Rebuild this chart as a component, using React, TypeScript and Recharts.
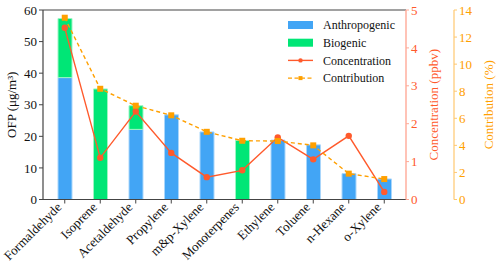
import React from 'react';
import {
  ComposedChart,
  Bar,
  Line,
  XAxis,
  YAxis,
  Legend,
  ReferenceLine,
  Label,
} from 'recharts';

// Top ten VOC species ranked by ozone formation potential
const categories = [
  'Formaldehyde',
  'Isoprene',
  'Acetaldehyde',
  'Propylene',
  'm&p-Xylene',
  'Monoterpenes',
  'Ethylene',
  'Toluene',
  'n-Hexane',
  'o-Xylene',
];
// OFP (μg/m³), split by source
const anthropogenic = [38.6, 0, 22.2, 26.8, 21.4, 0, 18.8, 17.3, 8.2, 6.5];
const biogenic = [18.7, 35.0, 7.5, 0, 0, 18.7, 0, 0, 0, 0];
// Mixing ratio (ppbv)
const concentration = [4.53, 1.1, 2.32, 1.23, 0.59, 0.77, 1.64, 1.06, 1.68, 0.2];
// Share of total OFP (%)
const contribution = [13.43, 8.18, 6.93, 6.22, 5.0, 4.34, 4.32, 4.0, 1.91, 1.51];

const ofpTicks = [0, 10, 20, 30, 40, 50, 60];
const concTicks = [0, 1, 2, 3, 4, 5];
const contribTicks = [0, 2, 4, 6, 8, 10, 12, 14];

const data = categories.map((name, i) => ({
  name,
  anthropogenic: anthropogenic[i],
  biogenic: biogenic[i],
  concentration: concentration[i],
  contribution: contribution[i],
}));

const FONT = 'Liberation Serif';
const BLUE = '#42A5F5';
const GREEN = '#00E676';
const RED = '#FF5a2c';
const RED_AXIS = '#FFAA98';
const ORANGE = '#FFA000';
const ORANGE_AXIS = '#FFC870';
const DARK = '#444';

// Category names rotated 45°, right end tucked just left of the tick
const CategoryTick = (props: any) => {
  const { x, y, payload } = props;
  return (
    <g transform={`translate(${x - 2.5},${y + 2.5})`}>
      <text
        transform="rotate(-45)"
        textAnchor="end"
        style={{ fontFamily: FONT, fontSize: 13 }}
        fill="#111"
      >
        {payload.value}
      </text>
    </g>
  );
};

const SquareDot = (props: any) => {
  const { cx, cy, index } = props;
  if (cx == null || cy == null) return null;
  return <rect key={`sq-${index}`} x={cx - 3} y={cy - 3} width={6} height={6} fill={ORANGE} />;
};

const RoundDot = (props: any) => {
  const { cx, cy, index } = props;
  if (cx == null || cy == null) return null;
  return <circle key={`rd-${index}`} cx={cx} cy={cy} r={3.2} fill={RED} />;
};

const legendItems = [
  { label: 'Anthropogenic', kind: 'box', color: BLUE },
  { label: 'Biogenic', kind: 'box', color: GREEN },
  { label: 'Concentration', kind: 'line', color: RED },
  { label: 'Contribution', kind: 'dash', color: ORANGE },
];

const LegendBox = () => (
  <svg width={130} height={75} style={{ display: 'block' }}>
    {legendItems.map((it, i) => {
      const cy = 11 + i * 17.7;
      return (
        <g key={it.label}>
          {it.kind === 'box' && (
            <rect x={0} y={cy - 4} width={25} height={8} fill={it.color} />
          )}
          {it.kind === 'line' && (
            <g>
              <line x1={0} y1={cy} x2={25} y2={cy} stroke={it.color} strokeWidth={1.4} />
              <circle cx={12.5} cy={cy} r={2.2} fill={it.color} />
            </g>
          )}
          {it.kind === 'dash' && (
            <g>
              <line
                x1={0}
                y1={cy}
                x2={25}
                y2={cy}
                stroke={it.color}
                strokeWidth={1.4}
                strokeDasharray="4 2.5"
              />
              <rect x={10.5} y={cy - 2} width={4} height={4} fill={it.color} />
            </g>
          )}
          <text x={35} y={cy + 4.2} style={{ fontFamily: FONT, fontSize: 12 }} fill="#111">
            {it.label}
          </text>
        </g>
      );
    })}
  </svg>
);

const axisTitle = (text: string, color: string, dx: number) => (props: any) => {
  const vb = props.viewBox || {};
  const x = vb.x + dx;
  const y = vb.y + vb.height / 2;
  return (
    <text
      x={x}
      y={y}
      transform={`rotate(-90, ${x}, ${y})`}
      textAnchor="middle"
      dominantBaseline="central"
      style={{ fontFamily: FONT, fontSize: 13 }}
      fill={color}
    >
      {text}
    </text>
  );
};

const tickStyle = (fill: string) => ({ fill, fontSize: 13, style: { fontFamily: FONT } });

export default function App() {
  return (
    <div
      style={{
        position: 'absolute',
        left: 0,
        top: 0,
        width: 500,
        height: 265,
        fontFamily: FONT,
      }}
    >
      <ComposedChart
        width={500}
        height={265}
        data={data}
        margin={{ top: 10, right: 0, bottom: 0, left: 0 }}
        barSize={14}
      >
        <XAxis
          dataKey="name"
          xAxisId="x"
          interval={0}
          height={65.5}
          padding={{ left: 4, right: 4 }}
          tick={<CategoryTick />}
          tickSize={4}
          axisLine={{ stroke: DARK, strokeWidth: 1.2 }}
          tickLine={{ stroke: DARK }}
        />
        <YAxis
          yAxisId="ofp"
          orientation="left"
          width={43}
          domain={[0, 60]}
          ticks={ofpTicks}
          tickSize={4}
          tickMargin={2}
          axisLine={{ stroke: DARK, strokeWidth: 1.2 }}
          tickLine={{ stroke: DARK }}
          tick={tickStyle('#111')}
        >
          <Label content={axisTitle('OFP (μg/m³)', '#111', 11)} />
        </YAxis>
        <YAxis
          yAxisId="conc"
          orientation="right"
          width={48}
          domain={[0, 5]}
          ticks={concTicks}
          tickSize={3}
          tickMargin={2}
          axisLine={{ stroke: RED_AXIS, strokeWidth: 1.4 }}
          tickLine={{ stroke: RED_AXIS }}
          tick={tickStyle(RED)}
        >
          <Label content={axisTitle('Concentration (ppbv)', RED, 27)} />
        </YAxis>
        <YAxis
          yAxisId="contrib"
          orientation="right"
          width={46}
          domain={[0, 14]}
          ticks={contribTicks}
          tickSize={3}
          tickMargin={2}
          axisLine={{ stroke: ORANGE_AXIS, strokeWidth: 1.2 }}
          tickLine={{ stroke: ORANGE_AXIS }}
          tick={tickStyle(ORANGE)}
        >
          <Label content={axisTitle('Contribution (%)', ORANGE, 34)} />
        </YAxis>
        <ReferenceLine yAxisId="ofp" xAxisId="x" y={60} stroke={DARK} strokeWidth={1.2} />
        <Bar
          dataKey="anthropogenic"
          xAxisId="x"
          yAxisId="ofp"
          stackId="ofp"
          fill={BLUE}
          stroke="#A9D6FB"
          strokeWidth={1}
          isAnimationActive={false}
        />
        <Bar
          dataKey="biogenic"
          xAxisId="x"
          yAxisId="ofp"
          stackId="ofp"
          fill={GREEN}
          stroke="#9CF5C3"
          strokeWidth={1}
          isAnimationActive={false}
        />
        <Line
          dataKey="concentration"
          xAxisId="x"
          yAxisId="conc"
          stroke={RED}
          strokeWidth={1.4}
          dot={<RoundDot />}
          activeDot={false}
          isAnimationActive={false}
        />
        <Line
          dataKey="contribution"
          xAxisId="x"
          yAxisId="contrib"
          stroke={ORANGE}
          strokeWidth={1.4}
          strokeDasharray="4 3"
          dot={<SquareDot />}
          activeDot={false}
          isAnimationActive={false}
        />
        <Legend
          layout="vertical"
          align="center"
          verticalAlign="middle"
          content={() => <LegendBox />}
          wrapperStyle={{ position: 'absolute', left: 288, top: 14, width: 130, height: 75 }}
        />
      </ComposedChart>
    </div>
  );
}
